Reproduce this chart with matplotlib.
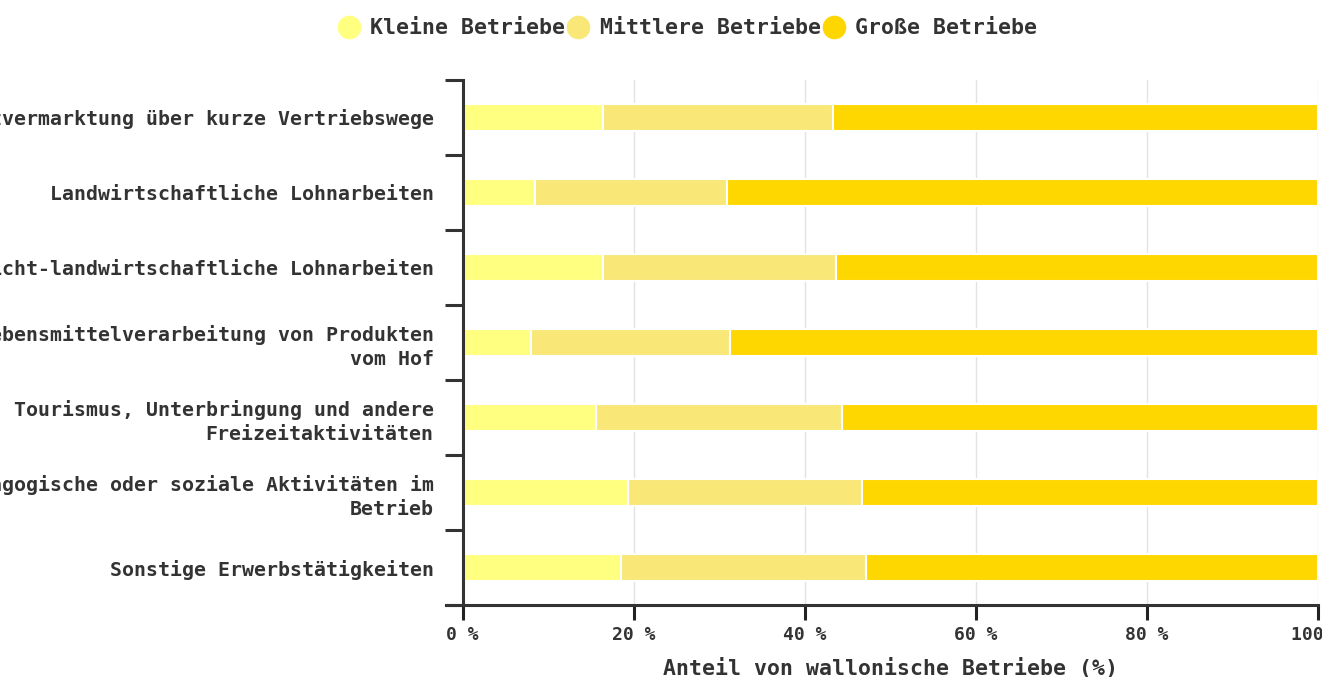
import numpy as np
import matplotlib.pyplot as plt
from matplotlib.lines import Line2D

categories = [
    "Direktvermarktung über kurze Vertriebswege",
    "Landwirtschaftliche Lohnarbeiten",
    "Nicht-landwirtschaftliche Lohnarbeiten",
    "Lebensmittelverarbeitung von Produkten\nvom Hof",
    "Tourismus, Unterbringung und andere\nFreizeitaktivitäten",
    "Pädagogische oder soziale Aktivitäten im\nBetrieb",
    "Sonstige Erwerbstätigkeiten",
]
kleine = [16.4, 8.5, 16.4, 8.0, 15.6, 19.3, 18.5]
mittlere = [26.9, 22.4, 27.3, 23.3, 28.8, 27.4, 28.6]
grosse = [100 - k - m for k, m in zip(kleine, mittlere)]

series = ["Kleine Betriebe", "Mittlere Betriebe", "Große Betriebe"]
colors = ["#FFFF80", "#F9E878", "#FFD700"]
xticks = [0, 20, 40, 60, 80, 100]

plt.rcParams['font.family'] = ['DejaVu Sans Mono']

fig = plt.figure(figsize=(13.22, 6.77), dpi=100)
ax = fig.add_axes([0.350, 0.106, 0.647, 0.776])

y = np.arange(len(categories))
left = np.zeros(len(categories))
for vals, c in zip([kleine, mittlere, grosse], colors):
    ax.barh(y, vals, left=left, height=0.36, color=c, edgecolor='white', linewidth=1.5, zorder=2)
    left += np.array(vals)

ax.set_ylim(len(categories) - 0.5, -0.5)
ax.set_xticks(xticks)
ax.set_xticklabels([f"{v} %" for v in xticks], fontsize=13, color='#333333', fontweight='bold')
ax.set_yticks(y)
ax.set_yticklabels(categories, fontsize=14.3, fontweight='bold', color='#333333', linespacing=1.32)
ax.set_yticks(np.arange(-0.5, len(categories), 1), minor=True)
ax.tick_params(axis='y', which='major', length=0, pad=21)
ax.tick_params(axis='y', which='minor', length=13, width=2.2, color='#333333')
ax.tick_params(axis='x', which='major', length=11, width=2.2, color='#222222', pad=4)

ax.grid(axis='x', color='#e3e3e3', linewidth=1, zorder=0)
for s in ['top', 'right']:
    ax.spines[s].set_visible(False)
for s in ['left', 'bottom']:
    ax.spines[s].set_linewidth(2.2)
    ax.spines[s].set_color('#333333')
ax.spines['bottom'].set_bounds(-2, 100)
ax.spines['bottom'].set_clip_on(False)
ax.set_xlim(0, 100)

ax.set_xlabel("Anteil von wallonische Betriebe (%)", fontsize=15.5, fontweight='bold', color='#333333', labelpad=10)

handles = [Line2D([], [], marker='o', linestyle='none', markersize=16, color=c) for c in colors]
fig.legend(handles, series, loc='upper center', bbox_to_anchor=(0.52, 1.0), ncol=3, frameon=False,
           prop={'family': 'DejaVu Sans Mono', 'weight': 'bold', 'size': 15.5},
           handletextpad=0.5, columnspacing=0.1, handlelength=1.0, labelcolor='#333333',
           borderaxespad=0.45)

fig.savefig('out.png', dpi=100)
